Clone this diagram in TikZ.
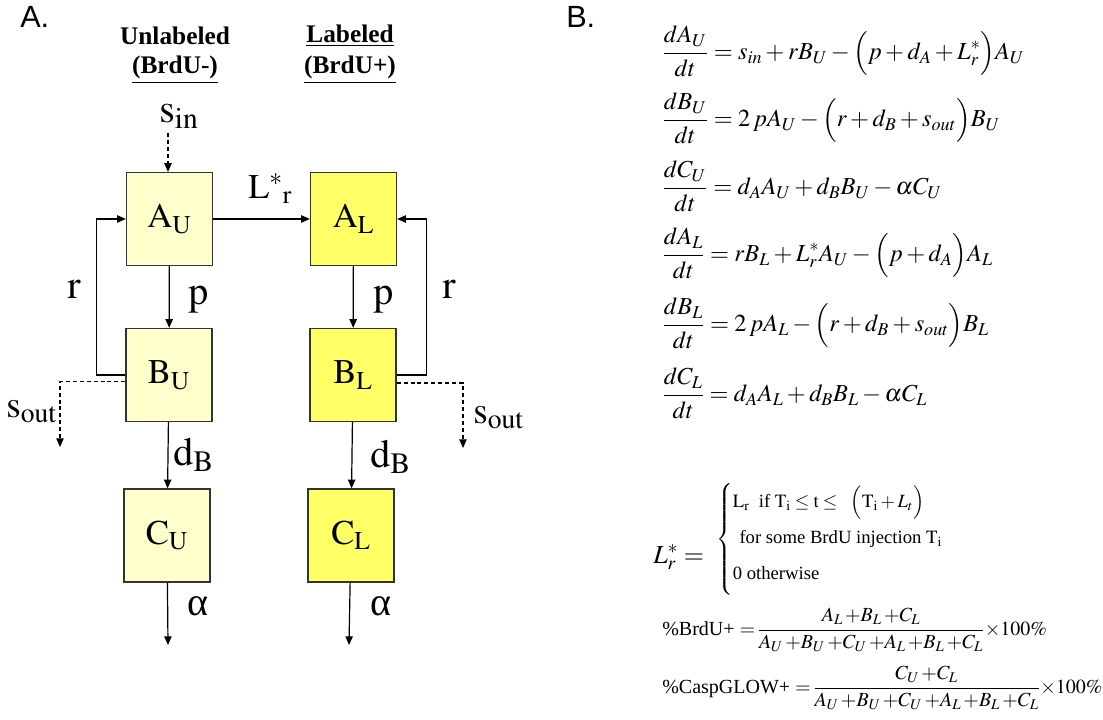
\documentclass[tikz,border=0pt]{standalone}
\usepackage{amsmath,amssymb}
\usepackage{mathptmx}
\usepackage{fontspec}
\setmainfont{Liberation Serif}
\newfontfamily\arialfont{Liberation Sans}
\usetikzlibrary{positioning,calc,arrows.meta}
\definecolor{paleyel}{HTML}{FFFFCC}
\definecolor{brightyel}{HTML}{FFFF66}
\definecolor{boxline}{HTML}{333333}

\begin{document}
\begin{tikzpicture}[x=0.75pt,y=-0.75pt,>={Triangle[length=6.5pt,width=5.5pt]},
	cell/.style={draw=boxline,line width=1pt,minimum width=64.5pt,minimum height=69.75pt,inner sep=0pt,font=\fontsize{26}{30}\selectfont},
	rate/.style={anchor=base west,inner sep=0pt,font=\fontsize{30}{34}\selectfont},
	head/.style={inner sep=0pt,font=\fontsize{19}{22}\selectfont\bfseries},
	eqn/.style={anchor=base west,inner sep=0pt,font=\fontsize{18.3}{22}\selectfont},
	pct/.style={anchor=base west,inner sep=0pt,font=\fontsize{15}{18}\selectfont,
		execute at begin node={\medmuskip=2mu\relax\thickmuskip=2mu\relax}},
	flow/.style={->,line width=0.9pt},
	leak/.style={->,line width=0.9pt,dash pattern=on 3pt off 2.2pt}]
	\useasboundingbox (0,0) rectangle (1103,719);

	\node[anchor=base west,inner sep=0pt,font=\arialfont\fontsize{23}{26}\selectfont] (partA) at (20,27) {A.};
	\node[anchor=base west,inner sep=0pt,font=\arialfont\fontsize{23}{26}\selectfont] (partB) at (566,27) {B.};

	\node[head] (unl) at (175,36) {Unlabeled};
	\node[head] (unlb) at (175,70) {\underline{(BrdU-)}};
	\node[head] (lab) at (350,36) {\underline{Labeled}};
	\node[head] (labb) at (350,70) {\underline{(BrdU+)}};

	\node[cell,fill=paleyel] (AU) at (169.5,219) {$\mathrm{A_U}$};
	\node[cell,fill=brightyel] (AL) at (353.5,219) {$\mathrm{A_L}$};
	\node[cell,fill=paleyel] (BU) at (169,375) {$\mathrm{B_U}$};
	\node[cell,fill=brightyel] (BL) at (353,375) {$\mathrm{B_L}$};
	\node[cell,fill=paleyel] (CU) at (167,535.5) {$\mathrm{C_U}$};
	\node[cell,fill=brightyel] (CL) at (351,535.5) {$\mathrm{C_L}$};

	\coordinate (sinend) at (168,133);
	\coordinate (aoutU) at (168,645);
	\coordinate (aoutL) at (349,645);
	\coordinate (soutU) at (60,447);
	\coordinate (soutL) at (463,448);

	\draw[leak] (sinend) -- (AU.north -| sinend);
	\draw[flow] (AU) -- (AL);
	\draw[flow] (AU) -- (BU);
	\draw[flow] (AL) -- (BL);
	\draw[flow] (BU) -- (CU);
	\draw[flow] (BL) -- (CL);
	\draw[flow] (CU) -- (aoutU);
	\draw[flow] (CL) -- (aoutL);
	\draw[flow] (BU.west) -- ++(-29,0) |- (AU.west);
	\draw[flow] (BL.east) -- ++(30,0) |- (AL.east);
	\draw[leak] ([yshift=-5pt]BU.west) -| (soutU);
	\draw[leak] ([yshift=-6pt]BL.east) -| (soutL);

	\node[rate] (sin) at (159,122) {$\mathrm{s_{in}}$};
	\node[rate,font=\fontsize{26}{30}\selectfont] (lr) at (248,198) {$\mathrm{L^{*}{}_{r}}$};
	\node[rate] (pU) at (188,304) {$\mathrm{p}$};
	\node[rate] (pL) at (373,304) {$\mathrm{p}$};
	\node[rate] (rU) at (67,298) {$\mathrm{r}$};
	\node[rate] (rL) at (442,298) {$\mathrm{r}$};
	\node[rate,font=\fontsize{28}{32}\selectfont] (soU) at (6,417) {$\mathrm{s_{out}}$};
	\node[rate,font=\fontsize{28}{32}\selectfont] (soL) at (473,423) {$\mathrm{s_{out}}$};
	\node[rate] (dU) at (173,465) {$\mathrm{d_B}$};
	\node[rate] (dL) at (370,467) {$\mathrm{d_B}$};
	\node[rate] (alU) at (187,615) {α};
	\node[rate] (alL) at (370,615) {α};

	\node[eqn] (eqAU) at (662,59.5) {$\displaystyle\frac{dA_U}{dt} = s_{in} + rB_U - \Bigl(p + d_A + L^*_r\Bigr) A_U$};
	\node[eqn] (eqBU) at (662,126.5) {$\displaystyle\frac{dB_U}{dt} = 2\,pA_U - \Bigl(r + d_B + s_{out}\Bigr) B_U$};
	\node[eqn] (eqCU) at (662,194.5) {$\displaystyle\frac{dC_U}{dt} = d_A A_U + d_B B_U - \alpha C_U$};
	\node[eqn] (eqAL) at (662,261.5) {$\displaystyle\frac{dA_L}{dt} = rB_L + L^*_r A_U - \Bigl(p + d_A\Bigr) A_L$};
	\node[eqn] (eqBL) at (662,331.5) {$\displaystyle\frac{dB_L}{dt} = 2\,pA_L - \Bigl(r + d_B + s_{out}\Bigr) B_L$};
	\node[eqn] (eqCL) at (662,401.5) {$\displaystyle\frac{dC_L}{dt} = d_A A_L + d_B B_L - \alpha C_L$};

	\node[eqn,font=\fontsize{19.5}{23}\selectfont] (lrdef) at (653,563) {$L^*_r =$};
	\node[anchor=west,inner sep=0pt,font=\fontsize{14}{17}\selectfont] (lrcase) at (716,539) {$\left\{\begin{array}{@{}l@{}}
		\rule{0pt}{19pt}\mathrm{L_r}\ \ \text{if}\ \mathrm{T_i} \le \mathrm{t} \le \ \ \Bigl(\mathrm{T_i} + L_t\Bigr) \\[10pt]
		\hspace{5pt}\text{for some BrdU injection }\mathrm{T_i} \\[10pt]
		\rule[-12pt]{0pt}{0pt}\text{0 otherwise}
	\end{array}\right.$};

	\node[pct] (brdu) at (662,635) {\%BrdU+ $= \dfrac{A_L\,{+}B_L\,{+}C_L}{A_U\,{+}B_U\,{+}C_U\,{+}A_L\,{+}B_L\,{+}C_L} {\times}100\%$};
	\node[pct] (casp) at (662,693) {\%CaspGLOW+ $= \dfrac{C_U\,{+}C_L}{A_U\,{+}B_U\,{+}C_U\,{+}A_L\,{+}B_L\,{+}C_L} {\times}100\%$};
\end{tikzpicture}
\end{document}
